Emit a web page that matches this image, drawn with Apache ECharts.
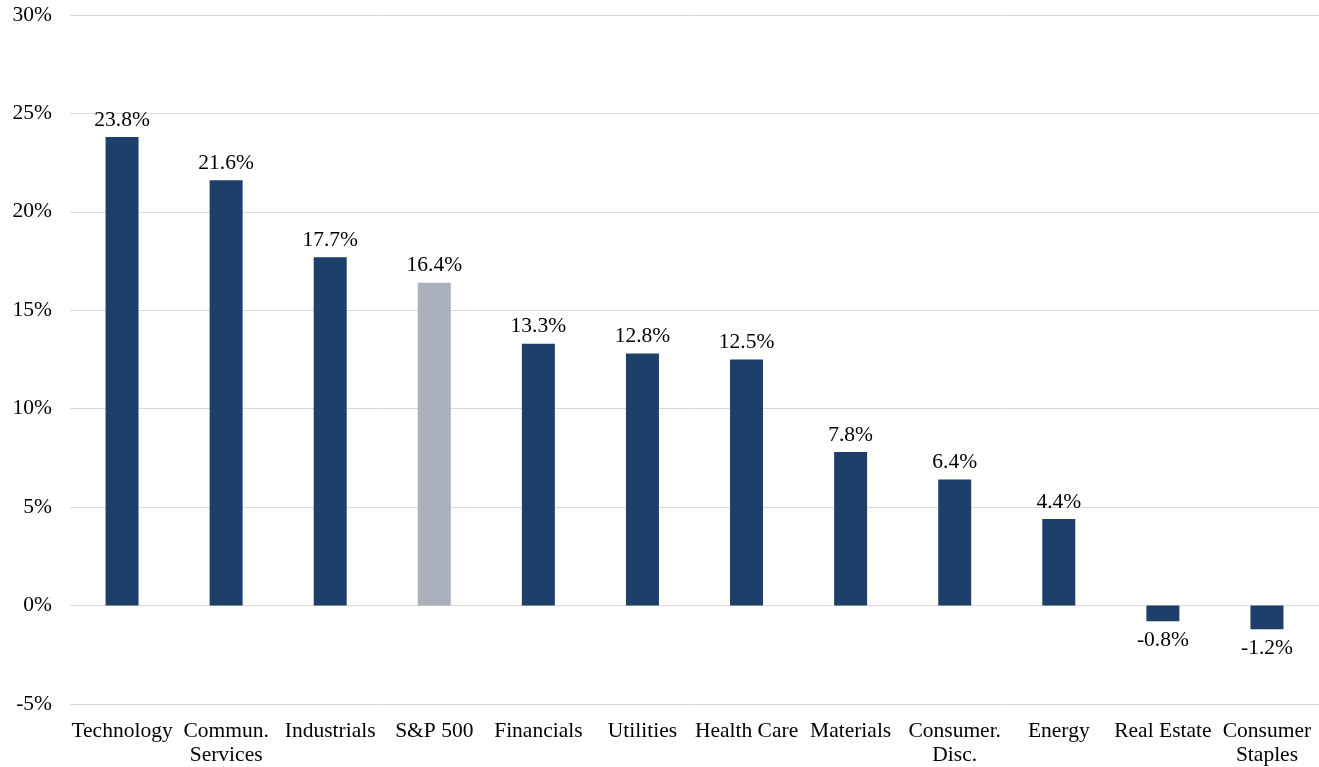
<!DOCTYPE html>
<html><head><meta charset="utf-8">
<script src="https://cdn.jsdelivr.net/npm/echarts@6/dist/echarts.min.js"></script>
<style>html,body{margin:0;padding:0;background:#fff}#c{width:1319px;height:767px}</style>
</head><body><div id="c"></div>
<script>
const categories = ['Technology','Commun.\nServices','Industrials','S&P 500','Financials','Utilities','Health Care','Materials','Consumer.\nDisc.','Energy','Real Estate','Consumer\nStaples'];
const values = [23.8, 21.6, 17.7, 16.4, 13.3, 12.8, 12.5, 7.8, 6.4, 4.4, -0.8, -1.2];
const highlight = 'S&P 500';
const yTicks = {min: -5, max: 30, interval: 5};

const font = 'Liberation Serif';
const chart = echarts.init(document.getElementById('c'));
chart.setOption({
  animation: false,
  grid: {left: 70, right: 0, top: 15, bottom: 57, containLabel: false},
  xAxis: {
    type: 'category', data: categories, position: 'bottom',
    axisLine: {show: false}, axisTick: {show: false},
    axisLabel: {interval: 0, color: '#000', fontFamily: font, fontSize: 21.5, margin: 15, lineHeight: 24}
  },
  yAxis: {
    type: 'value', min: yTicks.min, max: yTicks.max, interval: yTicks.interval,
    axisLine: {show: false}, axisTick: {show: false},
    splitLine: {lineStyle: {color: '#d9d9d9', width: 1}},
    axisLabel: {formatter: '{value}%', color: '#000', fontFamily: font, fontSize: 21.5, margin: 18}
  },
  series: [{
    type: 'bar', barWidth: 33,
    data: values.map((v, i) => ({
      value: v,
      itemStyle: {color: categories[i] === highlight ? '#aab1bc' : '#1f3f6b'},
      label: {position: v < 0 ? 'bottom' : 'top', distance: v < 0 ? 8 : 6}
    })),
    label: {show: true, formatter: p => p.value.toFixed(1) + '%', color: '#000', fontFamily: font, fontSize: 21.5}
  }]
});
</script></body></html>
